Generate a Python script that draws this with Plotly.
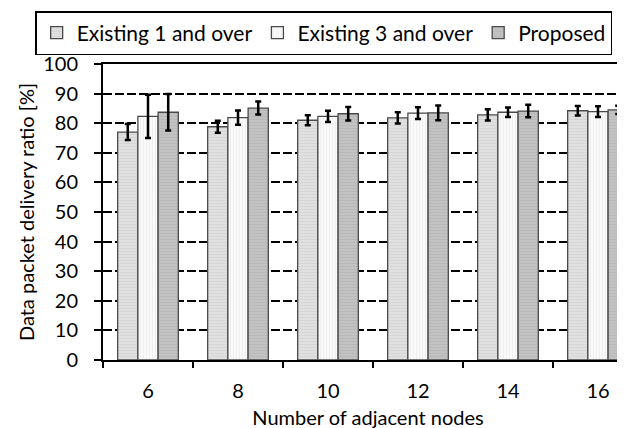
import plotly.graph_objects as go

categories = ["6", "8", "10", "12", "14", "16"]
series_names = ["Existing 1 and over", "Existing 3 and over", "Proposed"]
existing1 = [77.0, 78.8, 81.0, 81.8, 82.8, 84.2]
existing1_err = [2.7, 2.0, 1.7, 1.9, 1.9, 1.6]
existing3 = [82.3, 81.9, 82.3, 83.4, 83.7, 83.9]
existing3_err = [7.3, 2.4, 1.9, 2.0, 1.6, 1.8]
proposed = [83.7, 85.1, 83.2, 83.5, 84.1, 84.5]
proposed_err = [6.2, 2.2, 2.3, 2.5, 2.1, 1.4]
y_ticks = [0, 10, 20, 30, 40, 50, 60, 70, 80, 90, 100]

FONT = "Lato, 'Open Sans', sans-serif"

styles = [
    dict(bg="#e0e0e0", fg="#cccccc", shape="-"),
    dict(bg="#fafafa", fg="#e4e4e4", shape="|"),
    dict(bg="#c2c2c2", fg="#b0b0b0", shape="-"),
]

fig = go.Figure()
for name, vals, errs, st in zip(series_names, [existing1, existing3, proposed],
                                [existing1_err, existing3_err, proposed_err], styles):
    fig.add_trace(go.Bar(
        name=name, x=categories, y=vals,
        marker=dict(color=st["bg"], line=dict(color="#4a4a4a", width=1.3),
                    pattern=dict(shape=st["shape"], fgcolor=st["fg"], bgcolor=st["bg"],
                                 size=3, solidity=0.35)),
        error_y=dict(type="data", array=errs, visible=True, color="black",
                     thickness=2.5, width=3),
    ))

fig.update_layout(
    width=625, height=428,
    margin=dict(l=95, r=0, t=56, b=76),
    paper_bgcolor="white", plot_bgcolor="white",
    barmode="group", bargap=0.326, bargroupgap=0,
    font=dict(family=FONT, size=20, color="black"),
    legend=dict(orientation="h", x=-0.128, xanchor="left", y=1.179, yanchor="top",
                bordercolor="black", borderwidth=1.5, bgcolor="white",
                font=dict(size=21), itemwidth=30, traceorder="normal"),
    xaxis=dict(type="category", range=[-0.5, 5.389],
               showline=True, linecolor="black", linewidth=2, mirror=True,
               ticks="outside", ticklen=6, tickwidth=2, tickcolor="black",
               tickson="boundaries", ticklabelstandoff=12,
               showgrid=False,
               title=dict(text="Number of adjacent nodes", standoff=10, font=dict(size=20))),
    yaxis=dict(range=[0, 100], tickvals=y_ticks,
               showline=True, linecolor="black", linewidth=2,
               ticks="outside", ticklen=7, tickwidth=2, tickcolor="black",
               ticklabelstandoff=12,
               showgrid=True, gridcolor="black", gridwidth=1.6, griddash="9px,3px",
               zeroline=False,
               title=dict(text="Data packet delivery ratio [%]", standoff=3, font=dict(size=20))),
)

fig.write_html("out.html")
